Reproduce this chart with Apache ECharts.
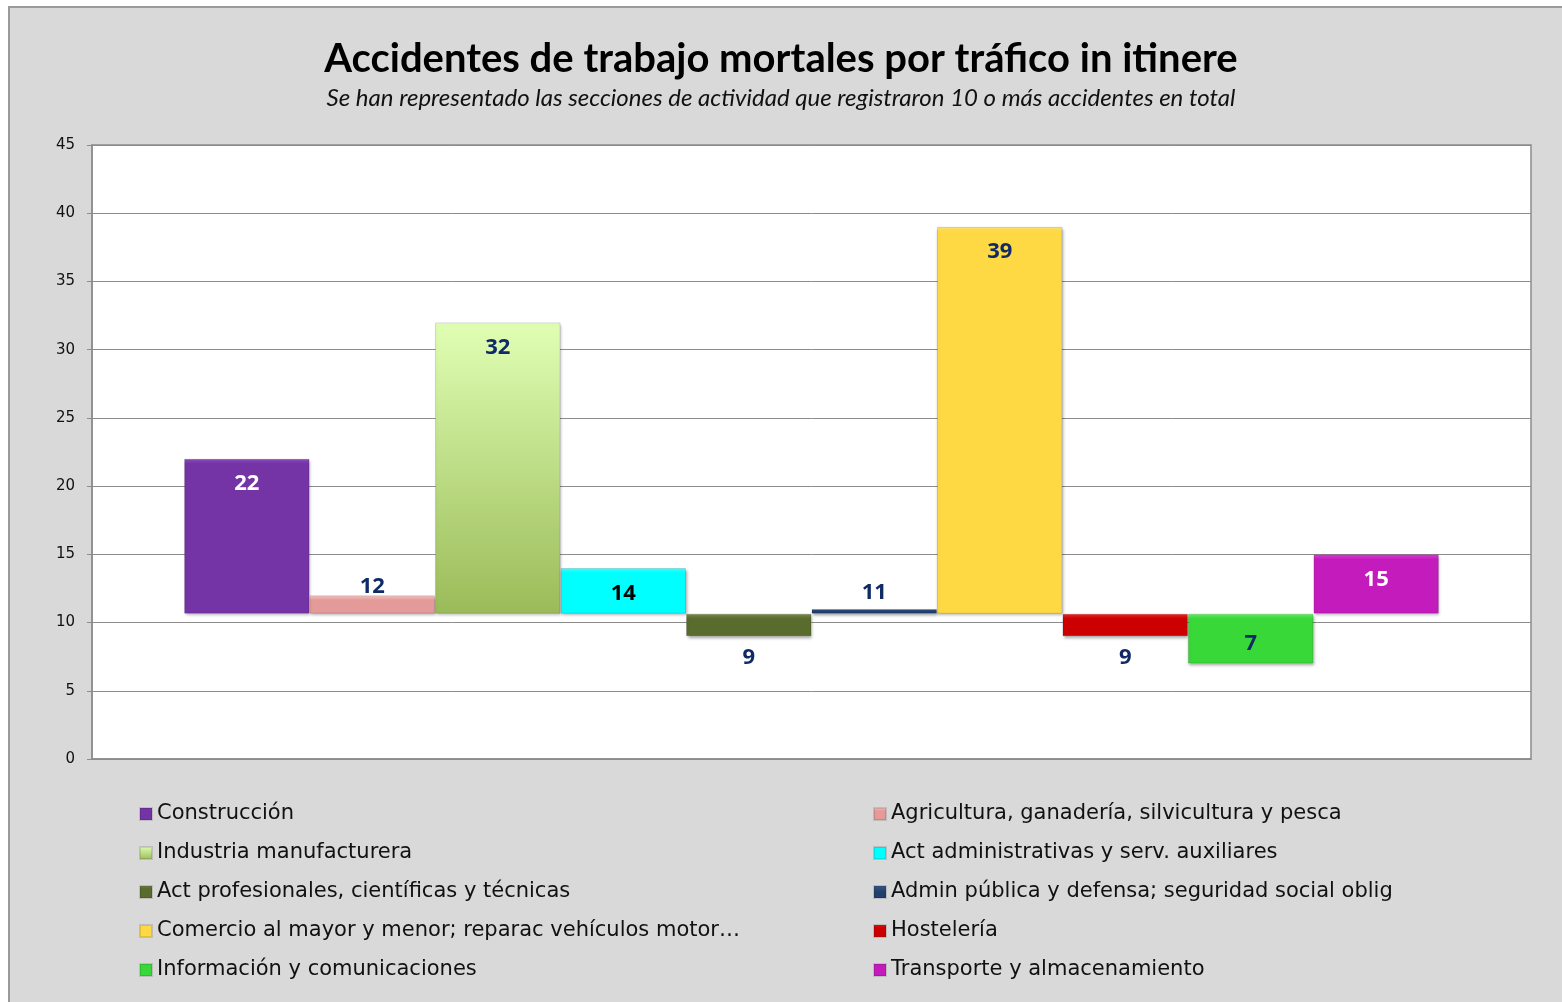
<!DOCTYPE html>
<html>
<head>
<meta charset="utf-8">
<script src="https://cdn.jsdelivr.net/npm/echarts@6/dist/echarts.min.js"></script>
<style>
  html, body { margin: 0; padding: 0; background: #fff; overflow: hidden; }
  #frame { position: absolute; left: 8px; top: 6px; width: 1600px; height: 1100px;
           background: #d9d9d9; border: 2px solid #9a9a9a; box-sizing: border-box; }
  #chart { position: absolute; left: 0; top: 0; width: 1562px; height: 1002px; }
</style>
</head>
<body>
<div id="frame"></div>
<div id="chart"></div>
<script>
// datos
var seriesNames = [
  "Construcción",
  "Agricultura, ganadería, silvicultura y pesca",
  "Industria manufacturera",
  "Act administrativas y serv. auxiliares",
  "Act profesionales, científicas y técnicas",
  "Admin pública y defensa; seguridad social oblig",
  "Comercio al mayor y menor; reparac vehículos motor…",
  "Hostelería",
  "Información y comunicaciones",
  "Transporte y almacenamiento"
];
var values = [22, 12, 32, 14, 9, 11, 39, 9, 7, 15];
var axisCross = 10.65; // el eje horizontal corta en este valor

// estilos
var colors = ["#7434a6", "#e39a98", "#9bbb59", "#00ffff", "#5a6b2e",
              "#22406a", "#ffd944", "#cc0000", "#38d838", "#c41cbc"];
var topColors = ["#8c4cc0", "#f7c8c6", "#e0ffb4", "#40ffff", "#7d8f50",
                 "#3a5a88", "#ffe36a", "#ee2a2a", "#66f066", "#dc40d6"];
var labelColors = ["#ffffff", "#0f2a66", "#0f2a66", "#000000", "#0f2a66",
                   "#0f2a66", "#0f2a66", "#0f2a66", "#0f2a66", "#ffffff"];
var labelPos = ["insideTop", "top", "insideTop", "inside", "bottom",
                "top", "insideTop", "bottom", "inside", "insideTop"];
var labelDist = [14, -2, 14, 5, 11, 5, 14, 11, 5, 14];
var labelOffset = [[0, 0], [0, 0], [0, 0], [0, 3], [0, 0],
                   [0, 0], [0, 0], [0, 0], [0, 5], [0, 0]];

var chart = echarts.init(document.getElementById("chart"));

var series = [];
for (var i = 0; i < values.length; i++) {
  var v = values[i];
  var base = Math.min(v, axisCross);
  var delta = Math.abs(v - axisCross);
  // parte invisible para levantar la barra hasta el cruce del eje
  series.push({
    name: "_base" + i,
    type: "bar",
    stack: "s" + i,
    silent: true,
    itemStyle: { color: "rgba(0,0,0,0)" },
    data: [base]
  });
  series.push({
    name: seriesNames[i],
    type: "bar",
    stack: "s" + i,
    itemStyle: {
      color: new echarts.graphic.LinearGradient(0, 0, 0, 1, i === 2 ? [
        { offset: 0, color: topColors[i] },
        { offset: 1, color: colors[i] }
      ] : [
        { offset: 0, color: topColors[i] },
        { offset: Math.min(0.5, 5 / (delta * 13.6 + 0.01)), color: colors[i] },
        { offset: 1, color: colors[i] }
      ]),
      borderColor: "rgba(0,0,0,0.12)",
      borderWidth: 1,
      shadowColor: "rgba(0,0,0,0.35)",
      shadowBlur: 3,
      shadowOffsetX: 1,
      shadowOffsetY: 2
    },
    label: {
      show: true,
      position: labelPos[i],
      distance: labelDist[i],
      offset: labelOffset[i],
      color: labelColors[i],
      fontFamily: "Open Sans",
      fontWeight: "bold",
      fontSize: 22,
      formatter: (function (val) { return function () { return val; }; })(v)
    },
    data: [delta]
  });
}

var legendLeft = [], legendRight = [];
for (var k = 0; k < seriesNames.length; k++) {
  (k % 2 === 0 ? legendLeft : legendRight).push(seriesNames[k]);
}
var legendBase = {
  orient: "vertical",
  top: 797,
  itemWidth: 12,
  itemHeight: 12,
  itemGap: 15,
  icon: "rect",
  selectedMode: false,
  textStyle: { fontFamily: "DejaVu Sans", fontSize: 21, color: "#111", lineHeight: 24 }
};

chart.setOption({
  animation: false,
  color: colors,
  title: [{
    text: "Accidentes de trabajo mortales por tráfico in itinere",
    left: "center",
    top: 34,
    textStyle: { fontFamily: "Lato", fontWeight: "bold", fontSize: 40, color: "#000" }
  }, {
    text: "Se han representado las secciones de actividad que registraron 10 o más accidentes en total",
    left: "center",
    top: 81,
    textStyle: { fontFamily: "Lato", fontStyle: "italic", fontWeight: "normal", fontSize: 24, color: "#111" }
  }],
  legend: [
    Object.assign({}, legendBase, { left: 134, data: legendLeft }),
    Object.assign({}, legendBase, { left: 868, data: legendRight })
  ],
  grid: {
    left: 92, top: 145, right: 31, bottom: 243,
    show: true,
    backgroundColor: "#ffffff",
    borderColor: "#8c8c8c",
    borderWidth: 1.5
  },
  xAxis: {
    type: "category",
    data: [""],
    axisLine: { show: true, lineStyle: { color: "#8c8c8c", width: 1.5 } },
    axisTick: { show: false },
    axisLabel: { show: false }
  },
  yAxis: {
    type: "value",
    min: 0,
    max: 45,
    interval: 5,
    axisLine: { show: true, lineStyle: { color: "#8c8c8c", width: 1.5 } },
    axisTick: { show: true, length: 5, lineStyle: { color: "#8c8c8c" } },
    axisLabel: { fontFamily: "DejaVu Sans", fontSize: 15, color: "#111", margin: 17 },
    splitLine: { lineStyle: { color: "#8c8c8c", width: 1 } }
  },
  barGap: "0%",
  barCategoryGap: "12.8%",
  series: series
});
</script>
</body>
</html>
